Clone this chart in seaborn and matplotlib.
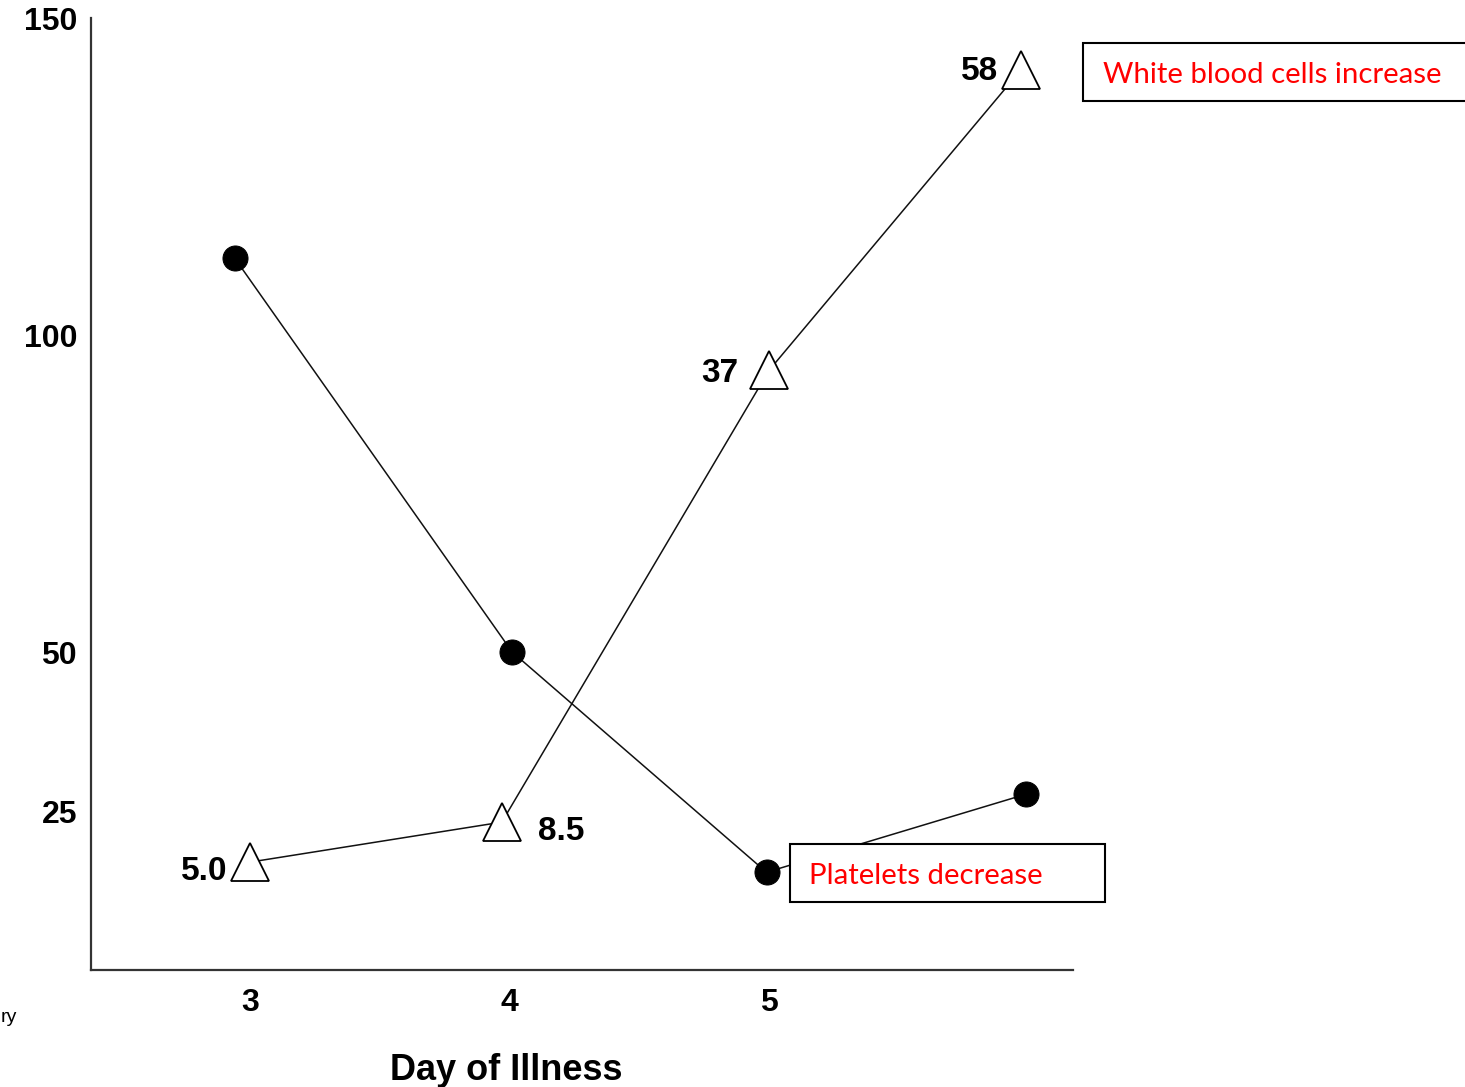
import pandas as pd
import seaborn as sns
import matplotlib.pyplot as plt
from matplotlib.patches import Rectangle

# values
platelet_days = [2.94, 4.01, 4.99, 5.99]
platelet_vals = [112.2, 50.1, 15.4, 27.7]

wbc_days = [3.0, 3.97, 5.0, 5.97]
wbc_vals = [17.0, 23.3, 94.5, 141.8]
wbc_labels = ['5.0', '8.5', '37', '58']

x_ticks = [3, 4, 5]
y_ticks = [25, 50, 100, 150]

W, H = 1465, 1087


def fx(px):
    return px / W


def fy(py):
    return 1 - py / H


sns.set_style("white")
plt.rcParams['font.family'] = ['Liberation Sans', 'DejaVu Sans']
plt.rcParams['text.color'] = 'black'
plt.rcParams['xtick.color'] = 'black'
plt.rcParams['ytick.color'] = 'black'
plt.rcParams['axes.labelcolor'] = 'black'

fig = plt.figure(figsize=(14.65, 10.87), dpi=100)
ax = fig.add_axes([fx(91), fy(970), fx(1073) - fx(91), fy(18) - fy(970)])

df_plt = pd.DataFrame({'day': platelet_days, 'y': platelet_vals})
df_wbc = pd.DataFrame({'day': wbc_days, 'y': wbc_vals})

sns.lineplot(data=df_plt, x='day', y='y', ax=ax, color='#111111', linewidth=1.1,
             marker='o', markersize=18, markerfacecolor='black',
             markeredgecolor='black', sort=False)
sns.lineplot(data=df_wbc, x='day', y='y', ax=ax, color='#111111', linewidth=1.1,
             marker='^', markersize=27, markerfacecolor='white',
             markeredgecolor='black', markeredgewidth=1.3, sort=False)

offsets = [(-16, -6.5), (26, -6.5), (-22, -2), (-16.5, -1)]
aligns = ['right', 'left', 'right', 'right']
for d, v, lab, off, ha in zip(wbc_days, wbc_vals, wbc_labels, offsets, aligns):
    ax.annotate(lab, xy=(d, v), xytext=off, textcoords='offset points',
                ha=ha, va='center', fontsize=24, fontweight='bold')

ax.set_xlim(2.387, 6.171)
ax.set_ylim(0, 150)
ax.set_xticks(x_ticks)
ax.set_yticks(y_ticks)
ax.set_xticklabels([str(t) for t in x_ticks],
                   fontdict={'family': ['Liberation Sans Narrow', 'Liberation Sans'],
                             'weight': 'bold', 'size': 23})
ax.set_yticklabels([str(t) for t in y_ticks], fontsize=23, fontweight='bold')
ax.tick_params(axis='y', length=0, pad=10)
ax.tick_params(axis='x', length=0, pad=13)
ax.set_ylabel('')
ax.set_xlabel('Day of Illness', fontsize=26, fontweight='bold',
              family=['Liberation Sans Narrow', 'Liberation Sans'])
ax.xaxis.set_label_coords((506 - 91) / 982, -(1053 - 970) / 952)

for side in ['top', 'right']:
    ax.spines[side].set_visible(False)
for side in ['left', 'bottom']:
    ax.spines[side].set_color('#333333')
    ax.spines[side].set_linewidth(1.6)

# red callout boxes
boxes = [(1083, 43, 1470, 101, 1103, 'White blood cells increase'),
         (790, 844, 1105, 902, 809, 'Platelets decrease')]
for x0, y0, x1, y1, tx, txt in boxes:
    fig.patches.append(Rectangle((fx(x0), fy(y1)), fx(x1) - fx(x0), fy(y0) - fy(y1),
                                 transform=fig.transFigure, facecolor='white',
                                 edgecolor='black', linewidth=1.5, zorder=5))
    fig.text(fx(tx), fy((y0 + y1) / 2 + 3), txt, color='red', fontsize=21.2,
             family=['Lato', 'DejaVu Sans'], ha='left', va='center', zorder=6)

fig.text(fx(1), fy(1018), 'ry', fontsize=14, va='center',
         family=['Liberation Sans Narrow', 'Liberation Sans'])

plt.savefig('out.png', dpi=100)
